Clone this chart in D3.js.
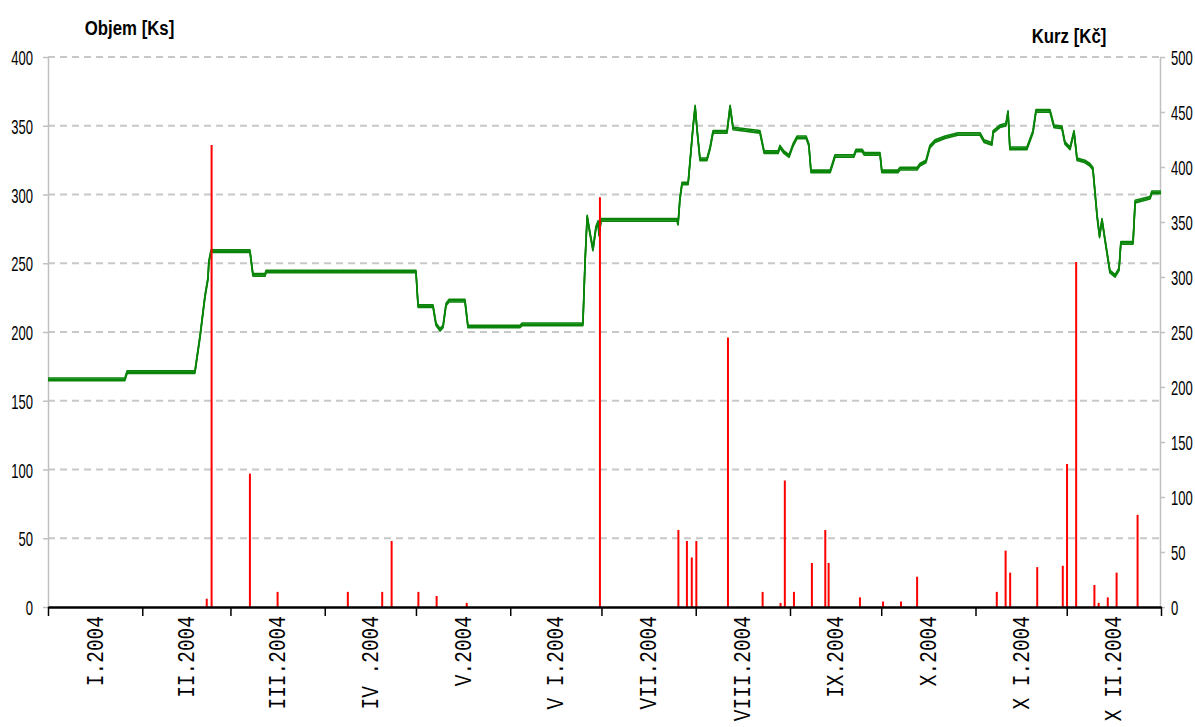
<!DOCTYPE html>
<html>
<head>
<meta charset="utf-8">
<script src="https://cdn.jsdelivr.net/npm/d3@7"></script>
<style>
  body { margin: 0; background: #fff; }
  text { font-family: "Liberation Sans", Arial, sans-serif; fill: #000; }
  .mono { font-family: "Liberation Mono", "Courier New", monospace; }
</style>
</head>
<body>
<div id="chart"></div>
<script>
// price (Kc) — day of year 2004, value
const priceDay = [0, 25.3, 26, 48.3, 50, 51.6, 52.6, 52.9, 53.6, 66.4, 67.4, 71.4, 71.7, 121, 121.7, 126.6,
  127.6, 128.9, 129.9, 130.9, 131.9, 137.1, 138.1, 155.2, 155.9, 175.9, 176.6, 177.3, 178.3, 179.2, 180.2,
  180.9, 181.2, 181.9, 206.8, 207.2, 207.8, 208.5, 210.5, 211.4, 212.1, 212.8, 213.5, 214.4, 216.7, 217.7,
  218.7, 223.3, 224.3, 225.3, 234.1, 235.5, 240.1, 240.7, 242, 243.7, 245, 246.3, 249.3, 250.2, 250.9,
  257.2, 257.8, 258.8, 265, 265.7, 267.7, 268.4, 273.6, 274.2, 279.5, 280.2, 285.8, 286.7, 288.7, 290,
  291.7, 295, 299.2, 306.5, 307.8, 310.4, 310.8, 313, 315, 315.7, 316.3, 321.9, 323.9, 324.9, 329.5,
  330.8, 333.4, 334.4, 336.1, 337.4, 338.4, 341, 342.6, 343.6, 345, 345.8, 346.6, 347.6, 349.2, 350.9,
  352.2, 352.8, 356.8, 357.5, 362.4, 363, 366];
const price = [207, 207, 213.5, 213.5, 246, 282, 298.5, 313.5, 323.5, 323.5, 302, 302, 305, 305, 273.5, 273.5,
  257, 252, 255, 275, 278.5, 278.5, 255, 255, 257, 257, 313.5, 355, 338.5, 325, 345,
  350, 338.5, 352, 352, 348.5, 371, 385, 385, 413.5, 436, 455, 432, 407, 407, 417,
  432, 432, 455, 435, 432, 413.5, 413.5, 418.5, 413.5, 410, 420, 427, 427, 420, 396,
  396, 401, 410, 410, 415, 415, 412, 412, 396, 396, 398.5, 398.5, 402, 405, 418.5,
  423.5, 427, 430, 430, 423.5, 421, 432, 437, 438.5, 450, 417, 417, 432, 451, 451,
  437, 436, 422, 417, 432, 407, 405, 402, 398.5, 355, 337, 352, 333.5, 305, 301,
  307, 331, 331, 368.5, 372, 377, 377];

// volume (Ks) — day of year 2004, value
const volumeDay = [52.2, 53.8, 66.4, 75.5, 98.6, 109.9, 113.0, 121.8, 127.8, 137.7, 181.5, 207.3, 210.1,
  211.7, 213.2, 223.6, 235.0, 240.9, 242.3, 245.3, 251.2, 255.6, 256.7, 267.0, 274.6, 280.5, 285.8,
  312.0, 314.9, 316.4, 325.3, 333.7, 335.1, 338.1, 344.1, 345.5, 348.5, 351.4, 358.3];
const volume = [6, 336, 97, 11, 11, 11, 48, 11, 8, 3, 298, 56, 48,
  36, 48, 196, 11, 3, 92, 11, 32, 56, 32, 7, 4, 4, 22,
  11, 41, 25, 29, 30, 104, 251, 16, 3, 7, 25, 67];

const monthLabels = ['I.2004', 'II.2004', 'III.2004', 'IV .2004', 'V.2004', 'V I.2004',
  'VII.2004', 'VIII.2004', 'IX.2004', 'X.2004', 'X I.2004', 'X II.2004'];
const leftTicks = [0, 50, 100, 150, 200, 250, 300, 350, 400];
const rightTicks = [0, 50, 100, 150, 200, 250, 300, 350, 400, 450, 500];

const width = 1195, height = 727;
const plotLeft = 48, plotRight = 1161, plotTop = 57, plotBottom = 607;
const t0 = Date.UTC(2004, 0, 1);
const dayToDate = (d) => new Date(t0 + d * 864e5);

const x = d3.scaleUtc().domain([new Date(t0), new Date(Date.UTC(2005, 0, 1))]).range([plotLeft, plotRight]);
const yL = d3.scaleLinear().domain([0, 400]).range([plotBottom, plotTop]);
const yR = d3.scaleLinear().domain([0, 500]).range([plotBottom, plotTop]);

const svg = d3.select('#chart').append('svg')
    .attr('width', width)
    .attr('height', height);

svg.append('rect').attr('width', width).attr('height', height).attr('fill', '#fff');

// grid
svg.append('g').selectAll('line')
  .data(leftTicks.filter((d) => d > 0)).enter().append('line')
  .attr('x1', plotLeft).attr('x2', plotRight - 1)
  .attr('y1', (d) => yL(d)).attr('y2', (d) => yL(d))
  .attr('stroke', '#c8c8c8')
  .attr('stroke-width', 2)
  .attr('stroke-dasharray', '7,5');

// left axis
const gL = svg.append('g')
  .attr('transform', 'translate(' + plotLeft + ',0)')
  .call(d3.axisLeft(yL).tickValues(leftTicks).tickSize(5).tickSizeOuter(0));
gL.select('.domain').attr('stroke', '#c0c0c0').attr('stroke-width', 1.5);
gL.selectAll('.tick line').attr('stroke', '#c0c0c0').attr('stroke-width', 1.5);
gL.selectAll('.tick text')
  .attr('x', -15 / 0.62).attr('dy', '0.36em')
  .attr('transform', 'scale(0.62,1)')
  .style('font-size', '21px').style('font-family', '"Liberation Sans", Arial, sans-serif');

// right axis
const gR = svg.append('g')
  .attr('transform', 'translate(' + (plotRight - 1) + ',0)')
  .call(d3.axisRight(yR).tickValues(rightTicks).tickSize(5).tickSizeOuter(0));
gR.select('.domain').attr('stroke', '#c0c0c0').attr('stroke-width', 1.5);
gR.selectAll('.tick line').attr('stroke', '#c0c0c0').attr('stroke-width', 1.5);
gR.selectAll('.tick text')
  .attr('x', 11 / 0.62).attr('dy', '0.36em')
  .attr('transform', 'scale(0.62,1)')
  .style('font-size', '21px').style('font-family', '"Liberation Sans", Arial, sans-serif');

// price line, drawn with a tall thin "pen"
const line = d3.line()
  .x((d, i) => x(dayToDate(priceDay[i])))
  .y((d) => yR(d));

svg.append('g').selectAll('path')
  .data([-1.3, 0, 1.3]).enter().append('path')
  .attr('transform', (o) => 'translate(0,' + o + ')')
  .attr('d', line(price))
  .attr('fill', 'none')
  .attr('stroke', '#0a850a')
  .attr('stroke-width', 1.6)
  .attr('stroke-linejoin', 'round');

// volume bars
svg.append('g').selectAll('line')
  .data(volume).enter().append('line')
  .attr('x1', (d, i) => x(dayToDate(volumeDay[i])))
  .attr('x2', (d, i) => x(dayToDate(volumeDay[i])))
  .attr('y1', yL(0))
  .attr('y2', (d) => yL(d))
  .attr('stroke', '#ff0000')
  .attr('stroke-width', 2);

// bottom axis
const months = d3.utcMonth.range(new Date(t0), new Date(Date.UTC(2005, 0, 2)));
const gB = svg.append('g')
  .attr('transform', 'translate(0,' + plotBottom + ')')
  .call(d3.axisBottom(x).tickValues(months).tickFormat('').tickSize(9).tickSizeOuter(0));
gB.select('.domain').attr('stroke', '#000').attr('stroke-width', 2.5);
gB.selectAll('.tick line').attr('stroke', '#000').attr('stroke-width', 1.5);

svg.append('g').selectAll('text')
  .data(monthLabels).enter().append('text')
  .attr('class', 'mono')
  .attr('transform', (d, i) => {
    const mid = (x(months[i]) + x(months[i + 1])) / 2;
    return 'translate(' + mid + ',616) rotate(-90) scale(1,1.2)';
  })
  .attr('dy', '0.32em')
  .style('text-anchor', 'end')
  .style('font-size', '19.5px')
  .text((d) => d);

// axis titles
svg.append('text')
  .attr('transform', 'translate(129.5,35) scale(0.8,1)')
  .style('text-anchor', 'middle')
  .style('font-weight', 'bold')
  .style('font-size', '21px')
  .text('Objem [Ks]');

svg.append('text')
  .attr('transform', 'translate(1069,43) scale(0.8,1)')
  .style('text-anchor', 'middle')
  .style('font-weight', 'bold')
  .style('font-size', '21px')
  .text('Kurz [Kč]');
</script>
</body>
</html>
